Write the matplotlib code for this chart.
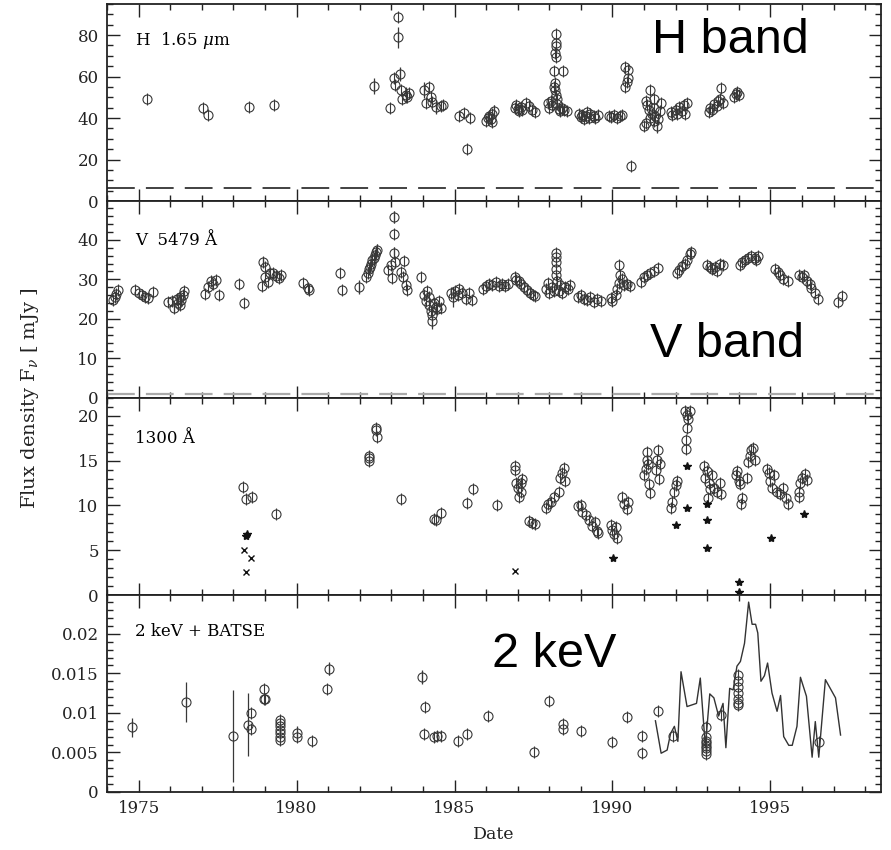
import matplotlib
matplotlib.use('Agg')
import matplotlib.pyplot as plt
from matplotlib.ticker import MultipleLocator, FuncFormatter

plt.rcParams['font.family'] = ['DejaVu Serif']
plt.rcParams['mathtext.fontset'] = 'dejavuserif'
plt.rcParams['lines.scale_dashes'] = False

# ---- H band 1.65 micron ----
h_year = [1975.28, 1977.03, 1977.20, 1978.48, 1979.30, 1982.44, 1982.95, 1983.20, 1983.20,
          1983.10, 1983.12, 1983.28, 1983.30, 1983.35, 1983.45, 1983.50, 1983.55,
          1984.02, 1984.10, 1984.18, 1984.25, 1984.30, 1984.40, 1984.58, 1984.65,
          1985.13, 1985.29, 1985.48, 1985.38,
          1986.00, 1986.05, 1986.10, 1986.15, 1986.20, 1986.25, 1986.18,
          1986.90, 1986.95, 1987.00, 1987.10, 1987.15, 1987.25, 1987.35, 1987.45, 1987.55, 1987.05,
          1987.95, 1988.00, 1988.05, 1988.10, 1988.15, 1988.18, 1988.20, 1988.20, 1988.20,
          1988.18, 1988.20, 1988.15, 1988.42, 1988.18, 1988.22, 1988.25, 1988.30, 1988.35,
          1988.40, 1988.45, 1988.55, 1988.25,
          1988.95, 1989.00, 1989.05, 1989.10, 1989.15, 1989.25, 1989.30, 1989.40, 1989.45,
          1989.55, 1989.20,
          1989.90, 1989.95, 1990.05, 1990.15, 1990.25, 1990.30,
          1990.40, 1990.50, 1990.48, 1990.45, 1990.40, 1990.60,
          1991.00, 1991.05, 1991.10, 1991.05, 1991.15, 1991.20, 1991.20, 1991.25, 1991.30,
          1991.32, 1991.35, 1991.40, 1991.45, 1991.50, 1991.55, 1991.30,
          1991.85, 1991.90, 1992.00, 1992.05, 1992.10, 1992.20, 1992.25, 1992.30, 1992.35,
          1993.05, 1993.10, 1993.15, 1993.20, 1993.30, 1993.35, 1993.40, 1993.45, 1993.50,
          1993.85, 1993.90, 1993.95, 1994.00]
h_flux = [49.3, 45.0, 41.6, 45.4, 46.4, 55.5, 44.9, 88.6, 79.0,
          59.3, 56.0, 61.3, 53.6, 49.2, 51.2, 50.2, 52.0,
          53.6, 47.3, 55.0, 50.2, 47.8, 45.4, 45.9, 46.4,
          41.1, 42.5, 40.1, 25.2,
          38.5, 40.0, 41.0, 39.5, 42.0, 43.5, 38.0,
          45.0, 46.5, 44.5, 45.5, 44.0, 47.5, 46.0, 44.0, 43.0, 43.5,
          47.5, 45.0, 48.0, 46.5, 55.0, 57.0, 80.4, 76.0, 74.7,
          71.3, 69.4, 62.7, 62.7, 53.6, 51.0, 49.0, 44.5, 43.5,
          45.0, 44.0, 43.5, 47.0,
          42.0, 40.5, 41.5, 39.5, 41.0, 40.0, 42.0, 41.0, 40.0,
          41.5, 43.0,
          41.0, 40.5, 41.5, 40.0, 40.8, 41.3,
          64.6, 63.2, 59.3, 57.4, 55.0, 17.1,
          36.0, 37.5, 46.5, 48.0, 44.0, 40.0, 53.6, 42.0, 38.5,
          45.0, 41.0, 36.0, 39.5, 43.5, 47.5, 49.0,
          43.0, 41.5, 44.0, 42.0, 45.5, 43.5, 46.5, 42.0, 47.5,
          43.0, 45.0, 44.0, 47.0, 46.0, 48.0, 49.0, 54.5, 47.5,
          50.0, 51.5, 52.5, 51.0]
h_err = [(1982.44, 55.5, 4.0), (1983.20, 79.0, 5.0), (1983.28, 61.3, 3.5), (1983.45, 51.2, 4.0),
         (1984.02, 53.6, 4.0), (1984.40, 45.4, 3.5), (1986.25, 43.5, 3.0), (1991.40, 36.0, 3.0)]
h_baseline = 6.5

# ---- V band 5479 A ----
v_year = [1974.20, 1974.25, 1974.30, 1974.35, 1974.90, 1975.00, 1975.10, 1975.20, 1975.30, 1975.45,
          1975.92, 1976.07, 1976.12, 1976.20, 1976.25, 1976.30, 1976.35, 1976.40, 1976.45, 1976.30,
          1977.10, 1977.20, 1977.30, 1977.35, 1977.45, 1977.55, 1978.17, 1978.35,
          1978.90, 1978.95, 1979.00, 1979.00, 1979.10, 1979.15, 1979.25, 1979.35, 1979.45, 1979.50,
          1980.20, 1980.35, 1980.40, 1981.36, 1981.45, 1981.97,
          1982.20, 1982.25, 1982.28, 1982.32, 1982.36, 1982.40, 1982.44, 1982.48, 1982.52, 1982.56,
          1982.90, 1983.00, 1983.02, 1983.10, 1983.10, 1983.10, 1983.12, 1983.30, 1983.38, 1983.40,
          1983.48, 1983.50, 1983.95,
          1984.05, 1984.10, 1984.12, 1984.18, 1984.20, 1984.25, 1984.28, 1984.30, 1984.35, 1984.40,
          1984.45, 1984.50, 1984.56,
          1984.90, 1984.95, 1985.00, 1985.10, 1985.15, 1985.25, 1985.35, 1985.45, 1985.56,
          1985.90, 1986.00, 1986.10, 1986.20, 1986.30, 1986.40, 1986.50, 1986.60, 1986.70,
          1986.90, 1986.95, 1987.05, 1987.10, 1987.20, 1987.30, 1987.40, 1987.50, 1987.55,
          1987.90, 1987.95, 1988.00, 1988.10, 1988.15, 1988.20, 1988.20, 1988.20, 1988.20,
          1988.22, 1988.25, 1988.30, 1988.35, 1988.40, 1988.50, 1988.60, 1988.65,
          1988.90, 1989.00, 1989.10, 1989.20, 1989.30, 1989.40, 1989.50, 1989.65,
          1989.95, 1990.00, 1990.10, 1990.15, 1990.20, 1990.22, 1990.25, 1990.30, 1990.35,
          1990.45, 1990.55,
          1990.90, 1991.00, 1991.10, 1991.20, 1991.30, 1991.45,
          1992.05, 1992.10, 1992.20, 1992.30, 1992.35, 1992.45, 1992.50,
          1993.00, 1993.10, 1993.15, 1993.25, 1993.30, 1993.40, 1993.50,
          1994.05, 1994.10, 1994.20, 1994.30, 1994.40, 1994.50, 1994.55, 1994.60,
          1995.15, 1995.25, 1995.30, 1995.40, 1995.55,
          1995.90, 1996.00, 1996.05, 1996.15, 1996.25, 1996.30, 1996.40, 1996.50,
          1997.15, 1997.25]
v_flux = [24.8, 25.5, 26.2, 27.4, 27.3, 26.6, 26.0, 25.5, 25.4, 26.9,
          24.3, 24.5, 22.8, 25.0, 24.0, 25.6, 24.8, 26.0, 27.0, 23.5,
          26.3, 28.0, 29.5, 28.7, 29.8, 26.1, 28.9, 24.0,
          28.3, 34.5, 33.0, 30.5, 29.4, 31.5, 31.7, 30.8, 30.3, 31.0,
          29.0, 27.8, 27.3, 31.6, 27.3, 28.0,
          30.5, 31.5, 32.5, 33.2, 34.0, 34.8, 35.5, 36.2, 36.8, 37.5,
          32.4, 33.7, 30.4, 45.8, 41.5, 36.7, 34.4, 31.9, 30.6, 34.7,
          28.6, 27.3, 30.6,
          26.0, 24.5, 27.0, 23.5, 25.5, 22.0, 21.0, 19.5, 24.0, 23.0,
          22.5, 24.5, 22.8,
          26.5, 25.5, 27.0, 26.0, 27.5, 26.5, 25.0, 26.5, 24.8,
          27.5, 28.3, 28.8, 28.5, 29.3, 28.4, 28.7, 28.2, 28.8,
          30.5, 29.8, 29.5, 28.8, 28.0, 27.3, 26.5, 26.0, 25.8,
          27.5, 29.0, 26.5, 28.0, 27.0, 36.7, 35.7, 34.4, 32.5,
          31.0, 29.5, 27.0, 28.5, 26.5, 28.0, 27.5, 28.5,
          25.5, 26.0, 25.0, 24.8, 25.5, 24.3, 25.0, 24.5,
          25.3, 24.5, 26.0, 27.5, 29.0, 33.5, 31.0, 30.0, 28.5,
          28.8, 28.3,
          29.4, 30.5, 31.0, 31.5, 32.0, 32.9,
          31.5, 32.3, 33.4, 33.9, 35.0, 36.4, 37.0,
          33.5, 33.0, 32.5, 33.2, 32.2, 33.8, 33.5,
          33.5, 34.5, 35.0, 35.5, 36.0, 35.3, 34.8, 35.8,
          32.5, 31.8, 31.0, 30.0, 29.5,
          31.0, 30.5, 31.2, 29.5, 28.8, 27.8, 26.5, 25.0,
          24.3, 25.8]
v_err = [(1983.10, 45.8, 1.5), (1982.56, 37.5, 1.5), (1984.30, 19.5, 2.0), (1984.95, 25.5, 2.5),
         (1981.97, 28.0, 1.8), (1976.12, 22.8, 1.0), (1978.95, 34.5, 1.2), (1983.10, 36.7, 1.5)]
v_baseline = 1.0

# ---- 1300 A ----
uv_year = [1978.30, 1978.39, 1978.58, 1979.36, 1982.28, 1982.28, 1982.30, 1982.53, 1982.53, 1982.55,
           1983.32, 1984.34, 1984.40, 1984.56, 1985.38, 1985.57, 1986.36,
           1986.90, 1986.92, 1986.95, 1987.00, 1987.05, 1987.10, 1987.12, 1987.15,
           1987.35, 1987.45, 1987.55,
           1987.90, 1987.95, 1988.05, 1988.15, 1988.30, 1988.35, 1988.40, 1988.45, 1988.50,
           1988.90, 1989.00, 1989.05, 1989.15, 1989.25, 1989.35, 1989.45, 1989.50, 1989.55,
           1989.95, 1990.00, 1990.05, 1990.10, 1990.15, 1990.30, 1990.35, 1990.45, 1990.50,
           1991.00, 1991.05, 1991.08, 1991.10, 1991.12, 1991.15, 1991.18,
           1991.38, 1991.42, 1991.45, 1991.48, 1991.50,
           1991.85, 1991.90, 1991.95, 1992.00, 1992.05,
           1992.30, 1992.35, 1992.40, 1992.45, 1992.35, 1992.32, 1992.32,
           1992.90, 1992.92, 1993.00, 1993.05, 1993.10, 1993.15, 1993.20, 1993.30, 1993.40,
           1993.42, 1993.02,
           1993.90, 1993.95, 1994.00, 1994.05, 1994.08, 1994.10, 1994.30, 1994.35, 1994.40,
           1994.45, 1994.50, 1994.25,
           1994.90, 1994.95, 1995.00, 1995.05, 1995.10, 1995.20, 1995.30, 1995.40, 1995.50,
           1995.55,
           1995.90, 1995.95, 1996.00, 1996.10, 1996.15, 1995.92]
uv_flux = [12.1, 10.7, 10.9, 9.0, 15.5, 15.0, 15.3, 18.6, 18.4, 17.6,
           10.7, 8.5, 8.4, 9.2, 10.3, 11.8, 10.0,
           14.4, 14.0, 12.5, 12.0, 11.0, 12.5, 11.5, 13.0,
           8.3, 8.0, 7.9,
           9.7, 10.2, 10.4, 11.0, 11.5, 13.1, 13.6, 14.2, 12.7,
           9.9, 10.1, 9.3, 8.9, 8.4, 7.7, 8.1, 7.1, 6.9,
           7.8, 7.3, 6.8, 7.6, 6.4, 10.9, 10.2, 9.6, 10.4,
           13.4, 14.1, 15.1, 16.0, 14.6, 12.4, 11.4,
           14.0, 15.1, 16.2, 13.0, 14.6,
           9.7, 10.4, 11.5, 12.3, 12.7,
           20.5, 20.1, 19.6, 20.5, 18.6, 17.3, 16.3,
           14.4, 13.1, 13.8, 12.5, 11.8, 13.4, 12.0, 11.5, 12.5,
           11.3, 10.8,
           13.4, 13.9, 12.7, 12.4, 10.2, 10.8, 14.8, 15.5, 16.2,
           16.4, 15.1, 13.1,
           14.1, 13.6, 12.7, 12.0, 13.4, 11.5, 11.3, 12.0, 10.8,
           10.2,
           11.5, 12.5, 13.1, 13.5, 12.8, 10.9]
uv_star_year = [1978.39, 1978.42, 1990.03, 1992.00, 1992.37, 1992.37, 1993.00, 1993.00, 1993.00,
                1994.00, 1994.00, 1995.03, 1996.05]
uv_star_flux = [6.6, 6.8, 4.1, 7.8, 14.4, 9.7, 10.2, 8.4, 5.2, 1.5, 0.3, 6.4, 9.1]
uv_cross_year = [1978.33, 1978.57, 1978.39, 1986.93]
uv_cross_flux = [5.0, 4.1, 2.6, 2.7]

# ---- 2 keV + BATSE ----
x_year = [1974.80, 1976.49, 1978.00, 1978.45, 1978.55, 1978.55, 1978.97, 1978.97, 1978.99,
          1979.47, 1979.47, 1979.47, 1979.47, 1979.47, 1979.47, 1979.47,
          1980.00, 1980.00, 1980.50, 1980.95, 1981.03,
          1983.97, 1984.08, 1984.02, 1984.34, 1984.45, 1984.56,
          1985.10, 1985.38, 1986.07, 1987.53, 1987.98, 1988.42, 1988.42, 1988.99,
          1989.97, 1990.47, 1990.95, 1990.95, 1991.45, 1991.93,
          1992.97, 1992.97, 1992.97, 1992.97, 1992.97, 1992.97, 1992.97, 1992.97,
          1993.45,
          1993.96, 1993.96, 1993.96, 1993.96, 1993.96, 1993.96, 1993.96,
          1996.55]
x_flux = [0.0082, 0.0114, 0.0071, 0.0085, 0.0100, 0.0079, 0.0130, 0.01175, 0.0117,
          0.0091, 0.0087, 0.0083, 0.0078, 0.0074, 0.0070, 0.0066,
          0.0074, 0.0070, 0.0064, 0.0130, 0.0156,
          0.0145, 0.0107, 0.0073, 0.0070, 0.0071, 0.0071,
          0.0065, 0.0073, 0.0096, 0.0050, 0.0115, 0.0086, 0.0080, 0.0077,
          0.0063, 0.0095, 0.0071, 0.0049, 0.0102, 0.0071,
          0.0082, 0.0070, 0.0065, 0.0062, 0.0058, 0.0055, 0.0052, 0.0048,
          0.0097,
          0.0148, 0.0140, 0.0133, 0.0125, 0.0118, 0.0113, 0.0110,
          0.0063]
x_err = [(1974.80, 0.0082, 0.0012), (1976.49, 0.0114, 0.0025), (1978.00, 0.0071, 0.0058),
         (1978.45, 0.0085, 0.0040), (1980.00, 0.0074, 0.0010), (1981.03, 0.0156, 0.0008),
         (1983.97, 0.0145, 0.0009)]
batse_year = [1991.36, 1991.54, 1991.73, 1991.84, 1991.96, 1992.07, 1992.17, 1992.36, 1992.66,
              1992.78, 1992.94, 1993.08, 1993.21, 1993.36, 1993.50, 1993.59, 1993.71, 1993.82,
              1993.94, 1994.05, 1994.18, 1994.31, 1994.42, 1994.53, 1994.60, 1994.70, 1994.81,
              1994.91, 1995.05, 1995.21, 1995.32, 1995.42, 1995.58, 1995.69, 1995.84, 1995.95,
              1996.14, 1996.32, 1996.42, 1996.53, 1996.74, 1997.06, 1997.22]
batse_flux = [0.0090, 0.0049, 0.0053, 0.0074, 0.0083, 0.0064, 0.0152, 0.0108, 0.0112,
              0.0144, 0.0057, 0.0124, 0.0119, 0.0096, 0.0112, 0.0056, 0.0131, 0.0129,
              0.0159, 0.0165, 0.0188, 0.0240, 0.0212, 0.0212, 0.0201, 0.0140, 0.0147,
              0.0163, 0.0125, 0.0102, 0.0122, 0.0070, 0.0059, 0.0059, 0.0083, 0.0145,
              0.0121, 0.0044, 0.0089, 0.0044, 0.0142, 0.0119, 0.0072]

ink = '#383838'
W, H = 891, 850


def circles(ax, xs, ys):
    # PGPLOT style: open circle with a short vertical bar through it
    ax.plot(xs, ys, ls='none', marker='|', ms=9, mew=0.8, color=ink, zorder=3)
    ax.plot(xs, ys, ls='none', marker='o', ms=6.5, mfc='none', mew=0.8, mec=ink, zorder=3)


def errbars(ax, errs):
    for x, y, e in errs:
        ax.vlines(x, y - e, y + e, color=ink, lw=0.9, zorder=2)


fig = plt.figure(figsize=(W / 100, H / 100), dpi=100)
gs = fig.add_gridspec(4, 1, left=107 / W, right=881 / W, top=1 - 4 / H, bottom=1 - 792 / H, hspace=0)
axes = [fig.add_subplot(gs[i]) for i in range(4)]

ylims = [(0, 95), (0, 49.8), (0, 22), (0, 0.0249)]
majors = [20, 10, 5, 0.005]
minors = [5, 2, 1, 0.001]
for ax, yl, mj, mn in zip(axes, ylims, majors, minors):
    ax.set_xlim(1974, 1998.5)
    ax.set_ylim(*yl)
    ax.xaxis.set_major_locator(MultipleLocator(5))
    ax.xaxis.set_minor_locator(MultipleLocator(1))
    ax.yaxis.set_major_locator(MultipleLocator(mj))
    ax.yaxis.set_minor_locator(MultipleLocator(mn))
    ax.tick_params(which='both', direction='in', top=True, right=True, color='#222222',
                   width=1.0, labelsize=12, labelcolor='#222222', pad=6)
    ax.tick_params(which='major', length=9)
    ax.tick_params(which='minor', length=4.5)
    for s in ax.spines.values():
        s.set_linewidth(1.3)
        s.set_color('#222222')
    if ax is not axes[-1]:
        ax.tick_params(labelbottom=False)

axes[3].yaxis.set_major_formatter(FuncFormatter(lambda v, p: '0' if v == 0 else '%g' % v))

# H band
ax = axes[0]
errbars(ax, h_err)
circles(ax, h_year, h_flux)
ax.axhline(h_baseline, color='#333333', lw=1.3, dashes=(20, 8))
ax.text(135 / W, 1 - 45 / H, r'H  1.65 $\mu$m', transform=fig.transFigure, fontsize=12, va='baseline')

# V band
ax = axes[1]
errbars(ax, v_err)
circles(ax, v_year, v_flux)
ax.axhline(v_baseline, color='#aaaaaa', lw=1.6, dashes=(20, 8))
ax.text(135 / W, 1 - 245 / H, 'V  5479 Å', transform=fig.transFigure, fontsize=12, va='baseline')

# 1300 A
ax = axes[2]
circles(ax, uv_year, uv_flux)
ax.plot(uv_star_year, uv_star_flux, ls='none', marker='*', ms=6, color='#111111', zorder=4)
ax.plot(uv_cross_year, uv_cross_flux, ls='none', marker='x', ms=4, mew=1.0, color='#111111', zorder=4)
ax.text(135 / W, 1 - 443 / H, '1300 Å', transform=fig.transFigure, fontsize=12, va='baseline')

# 2 keV + BATSE
ax = axes[3]
errbars(ax, x_err)
circles(ax, x_year, x_flux)
ax.plot(batse_year, batse_flux, color='#333333', lw=1.0, zorder=2)
ax.text(135 / W, 1 - 636 / H, '2 keV + BATSE', transform=fig.transFigure, fontsize=12, va='baseline')
ax.set_xlabel('Date', fontsize=12.5, color='#222222', labelpad=6)

fig.text(30 / W, 1 - 398 / H, r'Flux density F$_\nu$ [ mJy ]', rotation=90, ha='center', va='center',
         fontsize=14, color='#222222')

# big overlay labels
for txt, x, y in [('H band', 652, 53), ('V band', 650, 357), ('2 keV', 492, 667)]:
    fig.text(x / W, 1 - y / H, txt, fontsize=35, family='Liberation Sans', va='baseline', ha='left')

fig.savefig('out.png', dpi=100)
